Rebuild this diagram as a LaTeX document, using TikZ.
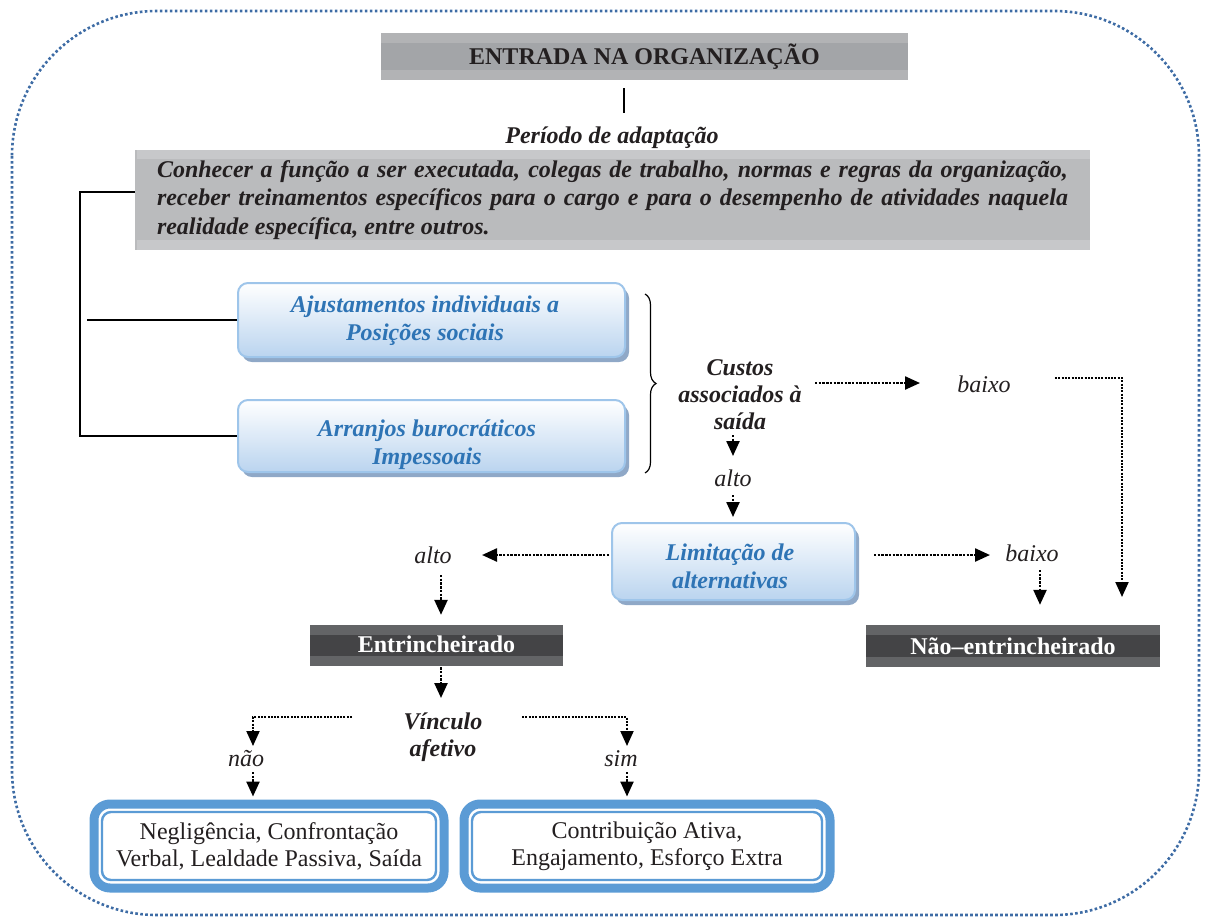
\documentclass[tikz,border=0pt]{standalone}
\usepackage{fontspec}
\setmainfont{Liberation Serif}
\usetikzlibrary{arrows.meta,calc,shadows,decorations.pathreplacing}

\definecolor{frameblue}{RGB}{62,108,165}
\definecolor{titlelight}{RGB}{178,179,181}
\definecolor{titlemid}{RGB}{163,165,168}
\definecolor{desclight}{RGB}{199,200,202}
\definecolor{descdark}{RGB}{186,187,189}
\definecolor{bluefill}{RGB}{186,212,239}
\definecolor{blueline}{RGB}{158,197,234}
\definecolor{blueshadow}{RGB}{143,168,199}
\definecolor{bluetext}{RGB}{46,116,181}
\definecolor{darkmid}{RGB}{68,68,70}
\definecolor{darklight}{RGB}{99,100,102}
\definecolor{outcomeblue}{RGB}{91,155,213}
\definecolor{inktext}{RGB}{35,31,32}

\begin{document}
\begin{tikzpicture}[x=1pt,y=-1pt,
  every node/.style={font=\fontsize{24}{27}\selectfont, inner sep=0pt, text=inktext},
  lbl/.style={font=\fontsize{24}{27}\selectfont\itshape},
  bilbl/.style={font=\fontsize{24}{27}\selectfont\bfseries\itshape, align=center},
  bluetxt/.style={font=\fontsize{24}{28}\selectfont\bfseries\itshape, align=center, text=bluetext},
  darr/.style={line width=2.4pt, dash pattern=on 2.4pt off 1.3pt, -{Triangle[length=15pt,width=13pt]}},
  branch/.style={line width=2pt, dash pattern=on 2pt off 1.3pt, -{Triangle[length=15pt,width=13pt]}},
  bracket/.style={line width=1.5pt, black},
  bluebox/.style={rounded corners=10pt, draw=blueline, line width=2pt,
    top color=white, bottom color=bluefill,
    drop shadow={shadow xshift=4pt, shadow yshift=-5pt, fill=blueshadow, opacity=1}},
  stripedbox/.style 2 args={fill=#1, path picture={
    \fill[#2] (path picture bounding box.north west) rectangle ([yshift=-10pt]path picture bounding box.north east);
    \fill[#2] (path picture bounding box.south west) rectangle ([yshift=10pt]path picture bounding box.south east);}},
  darkbox/.style={stripedbox={darkmid}{darklight}, font=\fontsize{24}{27}\selectfont\bfseries, text=white},
  outcome/.style={draw=outcomeblue, line width=9pt, rounded corners=16pt, fill=white,
    minimum width=350pt, minimum height=84pt, align=center},
  innerline/.style={draw=outcomeblue, line width=2.4pt, rounded corners=9pt}
]
\useasboundingbox (0,0) rectangle (1210,922);

% dotted frame around the whole scheme
\draw[frameblue, line width=2.6pt, dash pattern=on 2.6pt off 2.4pt, rounded corners=145pt]
  (12,11) rectangle (1199,915);

% entry and adaptation period
\node[stripedbox={titlemid}{titlelight}, minimum width=527pt, minimum height=47pt,
  font=\fontsize{24}{27}\selectfont\bfseries] (title) at (644.5,56.5) {ENTRADA NA ORGANIZAÇÃO};
\node[bilbl] (periodo) at (612,138) {Período de adaptação};
\draw[line width=1.2pt] ($(title.south)+(-20.5,8)$) -- ($(periodo)+(12,-25)$);

\node[fill=descdark, minimum width=955pt, minimum height=100pt, text width=911pt, align=justify,
  font=\fontsize{24}{28.5}\selectfont\bfseries\itshape,
  path picture={
    \fill[desclight] ([xshift=2pt]path picture bounding box.north west) rectangle ([yshift=-9pt]path picture bounding box.north east);
    \fill[desclight] ([xshift=2pt]path picture bounding box.south west) rectangle ([yshift=10pt]path picture bounding box.south east);}]
  (desc) at (612.5,200)
  {Conhecer a função a ser executada, colegas de trabalho, normas e regras da organização,\linebreak
   receber treinamentos específicos para o cargo e para o desempenho de atividades naquela\linebreak
   realidade específica, entre outros.};

% the two adjustment mechanisms
\node[bluebox, minimum width=387pt, minimum height=74pt] (aj) at (431.5,320) {};
\node[bluetxt] (ajtxt) at (425,321) {Ajustamentos individuais a\\Posições sociais};
\node[bluebox, minimum width=387pt, minimum height=72pt] (arr) at (431.5,436) {};
\node[bluetxt] (arrtxt) at (427,444.5) {Arranjos burocráticos\\Impessoais};

\draw[bracket] ($(desc.west)+(0,-8)$) -- ++(-55,0) |- (arr.west);
\draw[bracket] (aj.west) -- ++(-150,0);
\draw[line width=1.2pt, decorate, decoration={brace, amplitude=11pt}]
  ($(aj.north east)+(19,12)$) -- ($(arr.south east)+(19,0)$);

% exit costs and limitation of alternatives
\node[bilbl] (custos) at (740,395) {Custos\\associados à\\saída};
\node[lbl] (baixo1) at (984,384) {baixo};
\node[lbl] (alto1) at (733,478) {alto};
\node[bluebox, minimum width=243pt, minimum height=77pt] (lim) at (733.5,561.5) {};
\node[bluetxt] (limtxt) at (730,566.5) {Limitação de\\alternativas};
\node[lbl] (alto2) at (433,555) {alto};
\node[lbl] (baixo2) at (1032,553) {baixo};

% outcomes of the two routes
\node[darkbox, minimum width=253pt, minimum height=41pt] (entr) at (436.5,645.5)
  {\raisebox{3.5pt}{Entrincheirado}};
\node[darkbox, minimum width=294pt, minimum height=42pt] (naoentr) at (1013,646)
  {\raisebox{-5pt}{Não–entrincheirado}};

\node[bilbl] (vinc) at (443,737) {Vínculo\\afetivo};
\node[lbl] (nao) at (246,759) {não};
\node[lbl] (sim) at (621,759) {sim};

\node[outcome] (neg) at (269,846) {Negligência, Confrontação\\Verbal, Lealdade Passiva, Saída};
\node[outcome, minimum width=366pt] (contrib) at (647,846) {Contribuição Ativa,\\Engajamento, Esforço Extra};
\draw[innerline] ($(neg.north west)+(12.5,12.5)$) rectangle ($(neg.south east)+(-12.5,-12.5)$);
\draw[innerline] ($(contrib.north west)+(12.5,12.5)$) rectangle ($(contrib.south east)+(-12.5,-12.5)$);

% connectors
\draw[darr] ($(custos)+(75,-12)$) -- ($(baixo1)+(-64,-1)$);
\draw[branch] ($(baixo1)+(71,-6)$) -| ($(naoentr)+(109,-49)$);
\draw[darr] ($(custos)+(-7,40)$) -- ($(alto1)+(0,-22)$);
\draw[darr] ($(alto1)+(0,17)$) -- ($(lim.north)+(-0.5,-5)$);
\draw[darr] ($(lim.west)+(-2,-6.5)$) -- ($(alto2)+(49,0)$);
\draw[darr] ($(lim.east)+(18,-6.5)$) -- ($(baixo2)+(-42,2)$);
\draw[darr] ($(alto2)+(8,20)$) -- ($(entr.north)+(4.5,-10)$);
\draw[darr] ($(baixo2)+(8,17)$) -- ($(naoentr.north)+(27,-20)$);
\draw[darr] ($(entr.south)+(4.5,1)$) -- ($(vinc)+(-2,-39)$);
\draw[branch] ($(vinc)+(-91,-20)$) -| ($(nao)+(7,-13)$);
\draw[darr] ($(nao)+(7,13)$) -- ($(neg.north)+(-16,-3)$);
\draw[branch] ($(vinc)+(79,-20)$) -| ($(sim)+(6,-13)$);
\draw[darr] ($(sim)+(6,13)$) -- ($(contrib.north)+(-20,-3)$);
\end{tikzpicture}
\end{document}
